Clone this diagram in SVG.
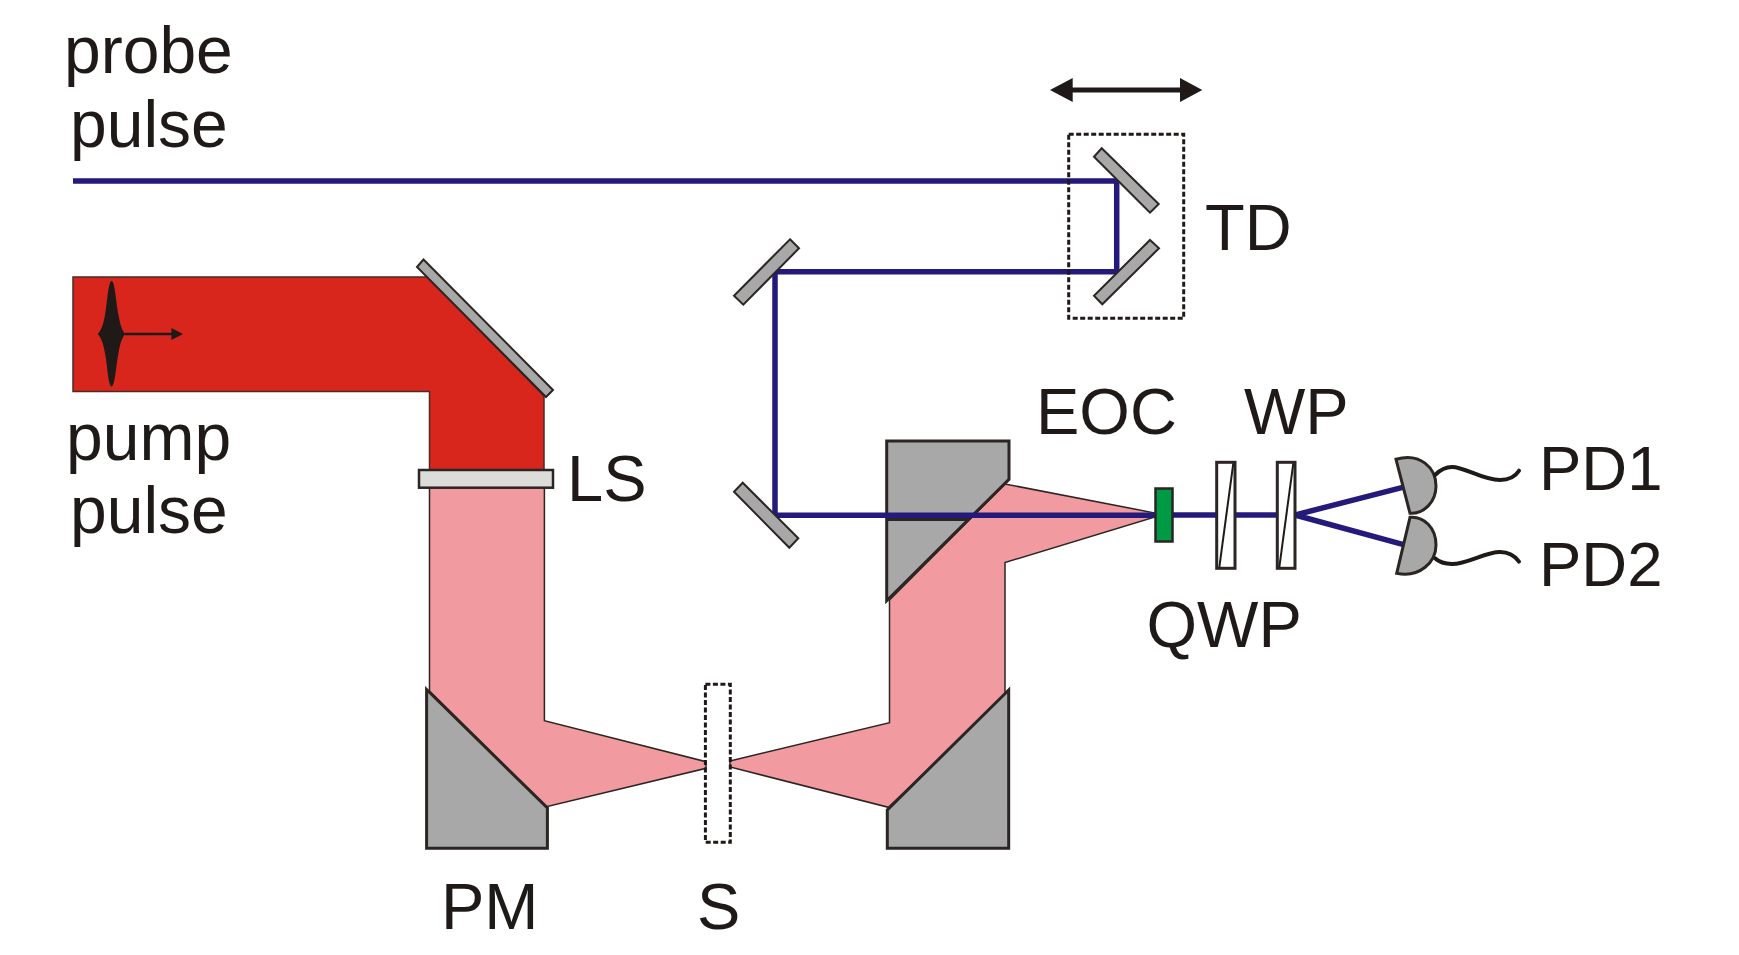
<svg xmlns="http://www.w3.org/2000/svg" width="1739" height="955" viewBox="0 0 1739 955">
<style>
text{font-family:"Liberation Sans",Arial,sans-serif;font-size:65px;fill:#1f1a17}
.big{font-size:66px}
.pd{font-size:63.500px}
.gray{fill:#a8a8a8;stroke:#2b2523;stroke-width:2}
.prism{fill:#a8a8a8;stroke:#2b2523;stroke-width:3}
.pink{fill:#f19aa0;stroke:#2b2523;stroke-width:1.5}
.beam{fill:none;stroke:#241a7c;stroke-width:5.500;stroke-linejoin:miter}
.dash{fill:none;stroke:#1f1a17;stroke-width:3;stroke-dasharray:5 2.500}
.plate{fill:#fff;stroke:#2b2523;stroke-width:3}
.wire{fill:none;stroke:#1f1a17;stroke-width:4;stroke-linecap:round}
</style>
<rect width="1739" height="955" fill="#fff"/>
<g id="pump-beam">
<path d="M73 277V391.500H429.500V470H544V396L428 277Z" fill="#d9261c" stroke="#4a2a26" stroke-width="1.500"/>
</g>
<g id="pink-beam-left">
<path class="pink" d="M429.500 487V691L546.400 806.700L706 768.300V761.700L544.400 720.700V487Z"/>
</g>
<g id="pink-beam-right">
<path class="pink" d="M730 761L889.500 722.700V600L1005 484L1155 513V517L1005 562.500V697L888.500 807.300L730 767Z"/>
</g>
<g id="prism-top"><path class="prism" d="M886.700 441H1009V479.300L886.700 600.700Z"/><path d="M887 519.500H968" stroke="#2b2523" stroke-width="3" fill="none"/></g>
<g id="PM-left"><path class="prism" d="M426.600 689.500L547.400 808V848.300H426.600Z"/></g>
<g id="PM-right"><path class="prism" d="M1008.700 690L887.300 810V848.300H1008.700Z"/></g>
<g id="connectors">
<path class="beam" d="M73 181H1116.700V271.700H775V515.300H1155"/>
<path class="beam" d="M1172 515H1295"/>
<path class="beam" d="M1402.700 487.300L1295 515L1402.700 544.300"/>
</g>
<g id="mirror-pump"><path class="gray" d="M423.500 259.500L417 267L546 397L553 390Z"/></g>
<g id="LS-lens"><rect x="419" y="470" width="134" height="17.700" fill="#dcdcda" stroke="#2b2523" stroke-width="2.500"/></g>
<g id="pulse">
<path d="M111.700 280.700C115 282 116 302 118.500 315C120 324 122 331 125.500 334C122 337 120 344 118.500 353C116 366 115 385.500 111.700 386.700C108 385.500 107.500 366 105 353C103.500 344 101 337 97.600 334C101 331 103.500 324 105 315C107.500 302 108 282 111.700 280.700Z" fill="#1f1a17"/>
<path d="M125 334H173" stroke="#1f1a17" stroke-width="2.500"/>
<path d="M171.400 328L183 334L171.400 340Z" fill="#1f1a17"/>
</g>
<g id="mirror-1"><path class="gray" d="M790 239.300L799 248.300L743.300 304.700L734 295.700Z"/></g>
<g id="mirror-2"><path class="gray" d="M742.700 482.700L734 491.700L789.300 547.700L798.300 538.300Z"/></g>
<g id="TD">
<path class="gray" d="M1101.700 148.300L1094 156.700L1150 212.700L1158.700 204Z"/>
<path class="gray" d="M1150 240L1159 248.300L1102.300 304.300L1094 295.700Z"/>
<rect class="dash" x="1068.700" y="134.300" width="115" height="184"/>
<path d="M1072 90H1181" stroke="#1f1a17" stroke-width="5"/>
<path d="M1050 90L1072.700 78V102Z" fill="#1f1a17"/>
<path d="M1202.300 90L1180 78V102Z" fill="#1f1a17"/>
<text x="1205" y="250">TD</text>
</g>
<g id="S"><rect class="dash" x="705.400" y="684.300" width="24.900" height="158"/><text x="697" y="929">S</text></g>
<g id="EOC"><rect x="1155.500" y="488.500" width="17" height="53" fill="#009a44" stroke="#2b2523" stroke-width="2.500"/><text x="1036" y="434">EOC</text></g>
<g id="QWP"><rect class="plate" x="1216.700" y="462.300" width="18.300" height="106"/><path d="M1233.300 463.300L1219.300 567.300" stroke="#1f1a17" stroke-width="2"/><text x="1146.500" y="647">QWP</text></g>
<g id="WP"><rect class="plate" x="1277.300" y="462.300" width="17.700" height="106"/><path d="M1293.300 463.300L1279.300 567.300" stroke="#1f1a17" stroke-width="2"/><text x="1244" y="434">WP</text></g>
<g id="PD1">
<path class="gray" d="M1396 459.300C1420 452 1436 468 1436 486C1436 502 1424 514 1410 513.300Z" style="stroke-width:3"/>
<path class="wire" d="M1435 475C1440 470 1446 467 1452 467C1465 467 1482 480 1500 480C1508 480 1515 477 1519 470.700"/>
<text class="pd" x="1539" y="490">PD1</text>
</g>
<g id="PD2">
<path class="gray" d="M1410 517.300C1424 516 1436 528 1436 545C1436 562 1420 578 1396.700 573.300Z" style="stroke-width:3"/>
<path class="wire" d="M1435 558.300C1440 563 1446 564 1452 564C1468 564 1485 552 1500 552C1508 552 1515 556 1519 561.700"/>
<text class="pd" x="1539" y="586">PD2</text>
</g>
<g id="labels">
<text class="big" x="64" y="73">probe</text>
<text class="big" x="70" y="147">pulse</text>
<text class="big" x="66" y="460">pump</text>
<text class="big" x="70" y="533">pulse</text>
<text x="567" y="501">LS</text>
<text x="441" y="929">PM</text>
</g>
</svg>
